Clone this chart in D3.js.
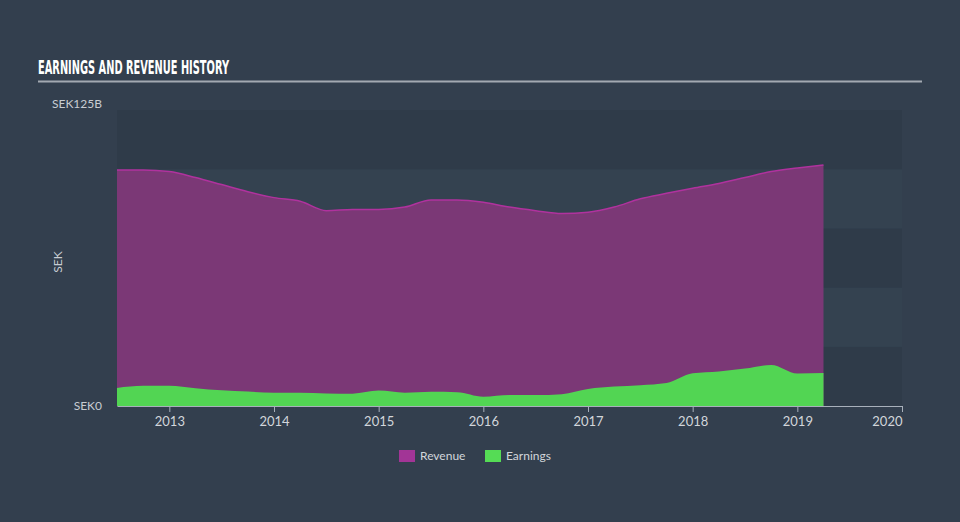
<!DOCTYPE html>
<html>
<head>
<meta charset="utf-8">
<script src="https://cdn.jsdelivr.net/npm/d3@7"></script>
<style>
  body { margin: 0; background: #333f4e; }
  svg { display: block; }
</style>
</head>
<body>
<div id="chart"></div>
<script>
// quarterly history, SEK billions
var dates = [2012.5, 2012.75, 2013.0, 2013.25, 2013.5, 2013.75, 2014.0, 2014.25,
  2014.5, 2014.75, 2015.0, 2015.25, 2015.5, 2015.75, 2016.0, 2016.25,
  2016.5, 2016.75, 2017.0, 2017.25, 2017.5, 2017.75, 2018.0, 2018.25,
  2018.5, 2018.75, 2019.0, 2019.25];
var revenue = [99.7, 99.7, 99.0, 96.5, 93.5, 90.5, 88.0, 86.5,
  82.5, 83.0, 83.0, 84.0, 87.0, 87.0, 86.0, 84.0,
  82.5, 81.3, 81.8, 84.0, 87.5, 89.8, 92.0, 94.0,
  96.5, 99.0, 100.5, 101.8];
var earnings = [7.6, 8.5, 8.5, 7.5, 6.6, 6.1, 5.6, 5.6,
  5.3, 5.2, 6.5, 5.6, 6.0, 5.8, 3.9, 4.6,
  4.6, 5.0, 7.2, 8.2, 8.8, 9.7, 13.8, 14.6,
  15.8, 17.3, 13.7, 13.9];
var yearTicks = [2013, 2014, 2015, 2016, 2017, 2018, 2019, 2020];
var yMax = 125;

var width = 960, height = 522;
var margin = {top: 110, right: 58, bottom: 116, left: 117};
var w = width - margin.left - margin.right,
    h = height - margin.top - margin.bottom;
var font = "Lato, 'Open Sans', sans-serif";

var svg = d3.select("#chart").append("svg")
    .attr("width", width)
    .attr("height", height);

svg.append("rect")
    .attr("width", width).attr("height", height)
    .attr("fill", "#333f4e");

// title
svg.append("text")
    .attr("x", 38).attr("y", 74)
    .attr("fill", "#ffffff")
    .attr("textLength", 191)
    .attr("lengthAdjust", "spacingAndGlyphs")
    .style("font-family", "'Liberation Sans Narrow', 'DejaVu Sans Condensed', sans-serif")
    .style("font-weight", "bold")
    .style("font-size", "19px")
    .text("EARNINGS AND REVENUE HISTORY");

svg.append("line")
    .attr("x1", 38).attr("x2", 922)
    .attr("y1", 81.5).attr("y2", 81.5)
    .attr("stroke", "#a3a9b1")
    .attr("stroke-width", 2);

var x = d3.scaleLinear().domain([2012.5, 2020]).range([0, w]);
var y = d3.scaleLinear().domain([0, yMax]).range([h, 0]);

var g = svg.append("g")
    .attr("transform", "translate(" + margin.left + "," + margin.top + ")");

// horizontal bands
var bands = d3.range(0, yMax, 25);
g.selectAll(".band").data(bands).enter().append("rect")
    .attr("class", "band")
    .attr("x", 0)
    .attr("width", w)
    .attr("y", function(d) { return y(d + 25); })
    .attr("height", function(d) { return y(d) - y(d + 25); })
    .attr("fill", function(d, i) { return i % 2 == 0 ? "#2f3b49" : "#344250"; });

var rows = dates.map(function(d, i) {
    return {date: d, revenue: revenue[i], earnings: earnings[i]};
});

var curve = d3.curveMonotoneX;

var revArea = d3.area()
    .curve(curve)
    .x(function(d) { return x(d.date); })
    .y0(h)
    .y1(function(d) { return y(d.revenue); });

var revLine = d3.line()
    .curve(curve)
    .x(function(d) { return x(d.date); })
    .y(function(d) { return y(d.revenue); });

var earnArea = d3.area()
    .curve(curve)
    .x(function(d) { return x(d.date); })
    .y0(h)
    .y1(function(d) { return y(d.earnings); });

g.append("path").datum(rows)
    .attr("d", revArea)
    .attr("fill", "#7b3876");

g.append("path").datum(rows)
    .attr("d", revLine)
    .attr("fill", "none")
    .attr("stroke", "#b0329e")
    .attr("stroke-width", 1.5);

g.append("path").datum(rows)
    .attr("d", earnArea)
    .attr("fill", "#52d553");

// x axis
var xAxis = d3.axisBottom(x)
    .tickValues(yearTicks)
    .tickFormat(d3.format("d"))
    .tickSize(6)
    .tickSizeOuter(0);

var ax = g.append("g")
    .attr("transform", "translate(0," + h + ")")
    .call(xAxis);
ax.select(".domain").attr("stroke", "#a8b0bb");
ax.selectAll(".tick line").attr("stroke", "#a8b0bb");
ax.selectAll(".tick text")
    .attr("fill", "#d2d6db")
    .attr("dy", "0.85em")
    .style("font-family", font)
    .style("font-size", "13px")
    .attr("text-anchor", function(d) { return d == 2020 ? "end" : "middle"; });

// y labels
var yLabels = g.append("g")
    .style("font-family", font)
    .style("font-size", "12px")
    .attr("fill", "#c8ccd2")
    .attr("text-anchor", "end");
yLabels.append("text")
    .attr("x", -15).attr("y", y(yMax) - 2)
    .text("SEK125B");
yLabels.append("text")
    .attr("x", -15).attr("y", y(0) + 4)
    .text("SEK0");

g.append("text")
    .attr("transform", "translate(" + (-55) + "," + (h / 2 + 4) + ")rotate(-90)")
    .attr("text-anchor", "middle")
    .attr("fill", "#c8ccd2")
    .style("font-family", font)
    .style("font-size", "12px")
    .text("SEK");

// legend
var legendItems = [
    {key: "Revenue", color: "#a23596", x: 399},
    {key: "Earnings", color: "#55dc55", x: 485}
];
var legend = svg.append("g").selectAll("g").data(legendItems).enter().append("g")
    .attr("transform", function(d) { return "translate(" + d.x + ",450)"; });
legend.append("rect")
    .attr("width", 16).attr("height", 12)
    .attr("fill", function(d) { return d.color; });
legend.append("text")
    .attr("x", 21).attr("y", 6)
    .attr("dy", "0.35em")
    .attr("fill", "#d2d6db")
    .style("font-family", font)
    .style("font-size", "12px")
    .text(function(d) { return d.key; });
</script>
</body>
</html>
